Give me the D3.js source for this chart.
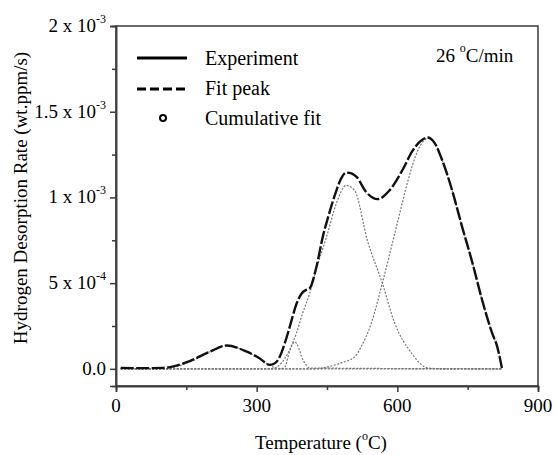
<!DOCTYPE html>
<html>
<head>
<meta charset="utf-8">
<script src="https://cdn.jsdelivr.net/npm/d3@7"></script>
<style>
  body { margin: 0; background: #fff; }
  svg { font-family: "Liberation Serif", "Times New Roman", serif; }
</style>
</head>
<body>
<svg width="556" height="455"></svg>
<script>
// Data (rate in units of 1e-4 wt.ppm/s)
const expTemp = [10, 50, 100, 115, 157, 200, 236, 279, 306, 328, 340, 349, 360, 370, 385, 396, 405, 413, 427, 441, 455, 470, 480, 491, 502, 513, 534, 558, 583, 611, 632, 650, 665, 679, 696, 717, 738, 760, 781, 802, 813, 823];
const expRate = [0.06, 0.04, 0.06, 0.1, 0.45, 1.0, 1.36, 1.0, 0.62, 0.23, 0.35, 0.7, 1.5, 2.4, 3.8, 4.4, 4.6, 4.7, 5.9, 7.7, 9.1, 10.4, 11.1, 11.45, 11.4, 11.2, 10.3, 9.9, 10.4, 11.6, 12.7, 13.3, 13.5, 13.2, 12.15, 10.4, 8.3, 6.2, 4.0, 2.1, 1.3, 0.05];

const peak1Temp = [10, 100, 115, 157, 200, 236, 279, 306, 328, 345, 360, 823];
const peak1Rate = [0, 0, 0.05, 0.4, 1.0, 1.36, 1.0, 0.6, 0.2, 0.03, 0, 0];

const peak2Temp = [10, 350, 360, 370, 381, 390, 396, 405, 413, 823];
const peak2Rate = [0, 0, 0.1, 1.0, 1.57, 1.2, 0.7, 0.25, 0.05, 0];

const peak3Temp = [10, 330, 349, 370, 385, 398, 413, 427, 449, 470, 491, 509, 536, 568, 594, 630, 664, 700, 823];
const peak3Rate = [0, 0, 0.23, 1.1, 2.1, 3.25, 4.4, 5.8, 7.7, 9.65, 10.7, 10.4, 7.5, 5.0, 2.7, 0.93, 0.06, 0, 0];

const peak4Temp = [10, 420, 450, 480, 509, 523, 545, 568, 600, 621, 643, 665, 679, 696, 717, 738, 760, 781, 802, 813, 823];
const peak4Rate = [0, 0, 0.1, 0.35, 0.7, 1.3, 2.7, 5.0, 8.5, 10.8, 12.7, 13.45, 13.2, 12.15, 10.4, 8.3, 6.2, 4.0, 2.1, 1.3, 0.05];

const xTicks = [0, 300, 600, 900];
const xMinor = [150, 450, 750];
const yTicks = [0, 5, 10, 15, 20];
const yMinor = [2.5, 7.5, 12.5, 17.5];
const yTickLabels = [["0.0", ""], ["5 x 10", "-4"], ["1 x 10", "-3"], ["1.5 x 10", "-3"], ["2 x 10", "-3"]];

const legendItems = ["Experiment", "Fit peak", "Cumulative fit"];

// Layout
const plot = { left: 116, right: 538, top: 26, bottom: 386 };
const svg = d3.select("svg");

const x = d3.scaleLinear().domain([0, 900]).range([plot.left, plot.right]);
const y = d3.scaleLinear().domain([-1, 20]).range([plot.bottom, plot.top]);

const axisColor = "#3a3a3a";

// Frame
svg.append("rect")
    .attr("x", plot.left).attr("y", plot.top)
    .attr("width", plot.right - plot.left).attr("height", plot.bottom - plot.top)
    .attr("fill", "none").attr("stroke", axisColor).attr("stroke-width", 1.5);

// Axes (ticks only, labels drawn separately)
const xAxis = svg.append("g")
    .attr("transform", `translate(0, ${plot.bottom})`)
    .call(d3.axisBottom(x).tickValues(xTicks).tickSize(6).tickFormat(""));
const xAxisMinor = svg.append("g")
    .attr("transform", `translate(0, ${plot.bottom})`)
    .call(d3.axisBottom(x).tickValues(xMinor).tickSize(4).tickFormat(""));
const yAxis = svg.append("g")
    .attr("transform", `translate(${plot.left}, 0)`)
    .call(d3.axisLeft(y).tickValues(yTicks).tickSize(6).tickFormat(""));
const yAxisMinor = svg.append("g")
    .attr("transform", `translate(${plot.left}, 0)`)
    .call(d3.axisLeft(y).tickValues(yMinor).tickSize(4).tickFormat(""));

[xAxis, xAxisMinor, yAxis, yAxisMinor].forEach(g => {
    g.select(".domain").attr("stroke", axisColor).attr("stroke-width", 1.5);
    g.selectAll(".tick line").attr("stroke", axisColor).attr("stroke-width", 1.5);
});

// X tick labels
svg.selectAll(".xlabel")
    .data(xTicks)
    .enter()
    .append("text")
    .attr("class", "xlabel")
    .attr("x", d => x(d))
    .attr("y", 412)
    .attr("text-anchor", "middle")
    .attr("font-size", 19)
    .text(d => d);

// Y tick labels with superscripts
const yl = svg.selectAll(".ylabel")
    .data(yTicks)
    .enter()
    .append("text")
    .attr("class", "ylabel")
    .attr("x", 106)
    .attr("y", d => y(d) + 6)
    .attr("text-anchor", "end")
    .attr("font-size", 19);
yl.append("tspan").text((d, i) => yTickLabels[i][0]);
yl.append("tspan")
    .attr("dy", -9)
    .attr("font-size", 12)
    .text((d, i) => yTickLabels[i][1]);

// Axis titles
const xt = svg.append("text")
    .attr("x", 321).attr("y", 449)
    .attr("text-anchor", "middle")
    .attr("font-size", 19);
xt.append("tspan").text("Temperature (");
xt.append("tspan").attr("dy", -9).attr("font-size", 12).text("o");
xt.append("tspan").attr("dy", 9).text("C)");

svg.append("text")
    .attr("transform", "translate(27, 198) rotate(-90)")
    .attr("text-anchor", "middle")
    .attr("font-size", 19)
    .text("Hydrogen Desorption Rate (wt.ppm/s)");

// Curves
const line = d3.line()
    .x(d => x(d[0]))
    .y(d => y(d[1]))
    .curve(d3.curveMonotoneX);

const peaks = [
    [peak1Temp, peak1Rate],
    [peak2Temp, peak2Rate],
    [peak3Temp, peak3Rate],
    [peak4Temp, peak4Rate]
];

svg.selectAll(".peak")
    .data(peaks)
    .enter()
    .append("path")
    .attr("class", "peak")
    .attr("d", p => line(d3.zip(p[0], p[1])))
    .attr("fill", "none")
    .attr("stroke", "#777")
    .attr("stroke-width", 1.2)
    .attr("stroke-dasharray", "2,1.5");

svg.append("path")
    .attr("d", line(d3.zip(expTemp, expRate)))
    .attr("fill", "none")
    .attr("stroke", "#111")
    .attr("stroke-width", 2.4)
    .attr("stroke-dasharray", "13,2.5");

// Legend
const legend = svg.append("g");
legend.append("line")
    .attr("x1", 137).attr("x2", 187).attr("y1", 58).attr("y2", 58)
    .attr("stroke", "#000").attr("stroke-width", 3);
legend.append("line")
    .attr("x1", 137).attr("x2", 187).attr("y1", 89).attr("y2", 89)
    .attr("stroke", "#000").attr("stroke-width", 3)
    .attr("stroke-dasharray", "9,4");
legend.append("circle")
    .attr("cx", 163).attr("cy", 118).attr("r", 3)
    .attr("fill", "none").attr("stroke", "#000").attr("stroke-width", 2);
legend.selectAll(".legtext")
    .data(legendItems)
    .enter()
    .append("text")
    .attr("class", "legtext")
    .attr("x", 205)
    .attr("y", (d, i) => 65 + i * 30)
    .attr("font-size", 20)
    .text(d => d);

// Heating rate label
const rate = svg.append("text")
    .attr("x", 436).attr("y", 62)
    .attr("font-size", 19);
rate.append("tspan").text("26 ");
rate.append("tspan").attr("dy", -10).attr("font-size", 12).text("o");
rate.append("tspan").attr("dy", 10).text("C/min");
</script>
</body>
</html>
